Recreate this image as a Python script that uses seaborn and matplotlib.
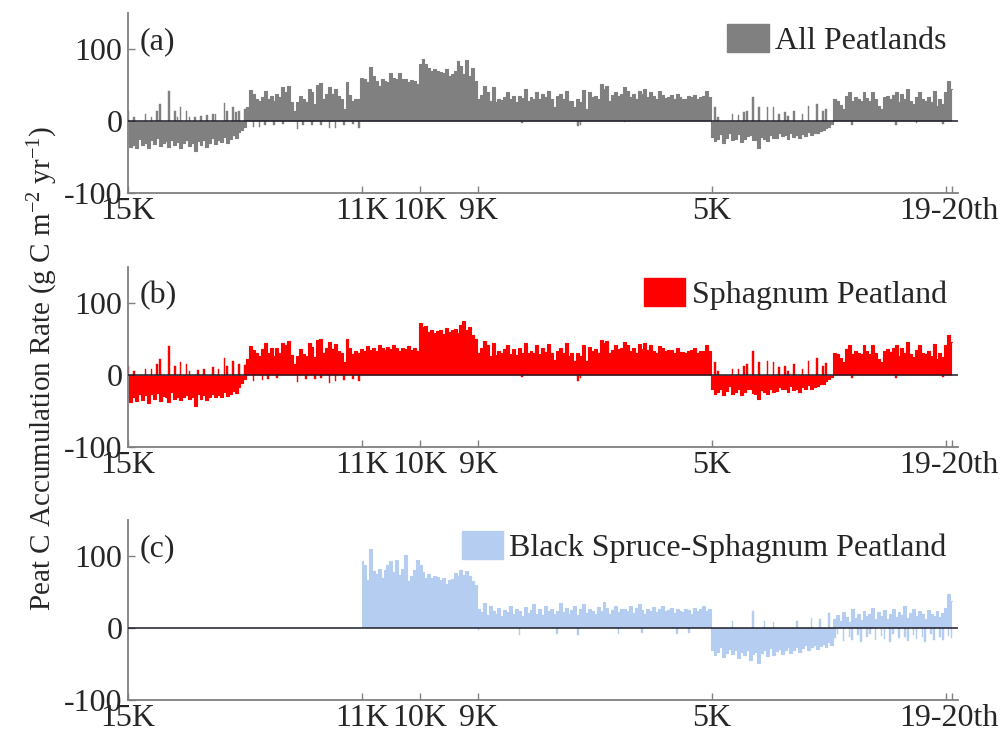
import numpy as np
import pandas as pd
import matplotlib
matplotlib.use("Agg")
import matplotlib.pyplot as plt
from matplotlib.patches import Patch
import seaborn as sns

# ---------------- data (kyr BP, 50-yr bins from 15.0K to 0.9K) ----------------
n_bins = 283
time_kyr = np.round(15.0 - 0.05 * np.arange(n_bins), 3)

all_vals = [
    -28, -36, -33, -38, -25, -34, -30, -37, -27, -32,
    -24, -35, -30, -28, -36, -26, -33, -29, -37, -31,
    -27, -35, -30, -41, -28, -33, -26, -36, -30, -24,
    -32, -27, -29, -22, -30, -25, -20, -24, -15, -12, -8,
    20, 43, 37, 30, 28, 34, 42, 30, 35, 28, 37, 33, 47, 40,
    49, 26, 14, 26, 35, 30, 26, 45, 40, 24, 50, 53, 30, 37, 47,
    37, 44, 35, 30, 17, 54, 36, 28, 30, 30,
    60, 58, 54, 75, 62, 56, 49, 59, 55, 54, 66, 60, 59, 67, 58, 59, 54, 57, 55, 51,
    79, 86, 79, 74, 70, 72, 70, 68, 66, 72, 63, 65, 70, 84, 77, 65, 85, 63, 73, 56,
    30, 36, 49, 40, 28, 47, 26, 31, 29, 34,
    40, 30, 35, 27, 35, 32, 45, 28, 34, 30,
    40, 30, 37, 33, 42, 30, 19, 35, 37, 31,
    42, 28, 28, 19, 30, 26, 43, 17, 40, 33,
    35, 30, 51, 44, 49, 28, 36, 40, 35, 38,
    47, 42, 33, 37, 31, 42, 37, 45, 34, 40,
    35, 30, 41, 36, 32, 34, 36, 30, 37, 33,
    31, 30, 35, 34, 36, 30, 33, 35, 42, 33,
    -22, -28, -25, -18, -30, -23, -16, -27, -25, -18,
    -29, -25, -21, -20, -26, -27, -37, -22, -25, -28,
    -20, -24, -23, -17, -21, -20, -25, -16, -22, -20,
    -24, -18, -21, -15, -20, -17, -16, -14, -13, -10, -8, -4,
    30, 28, 22, 17, 35, 40, 28, 33, 30, 28,
    40, 32, 28, 40, 30, 21, 17, 33, 35, 31,
    36, 40, 26, 37, 30, 45, 28, 24, 34, 40,
    30, 28, 33, 26, 42, 21, 30, 24, 40, 55, 45,
]
all_spike_t = [15.0, 14.9, 14.7, 14.6, 14.5, 14.45, 14.3, 14.2, 14.15, 14.1, 14.0, 13.95,
               13.85, 13.75, 13.65, 13.55, 13.5, 13.35, 13.3, 13.2, 13.15, 13.1, 13.0,
               12.85, 12.75, 12.65, 12.5, 12.35, 12.1, 12.0, 11.85, 11.7, 11.55, 11.45,
               11.3, 11.15, 11.05, 8.25, 7.3, 7.25, 6.5,
               4.95, 4.9, 4.65, 4.55, 4.45, 4.4, 4.3, 4.2, 4.05, 3.95, 3.85, 3.75, 3.7,
               3.6, 3.45, 3.35, 3.2, 3.1, 3.05,
               2.6, 1.85, 1.5, 1.05]
all_spike_v = [14, 5, 10, 6, 14, 24, 41, 14, 5, 19, 14, 6,
               6, 7, 8, 10, 10, 25, 14, 19, 12, 14, 16,
               -9, -8, -6, -5, -4, -11, -5, -5, -5, -10, -10,
               -6, -4, -10, -3, -7, -5, -2,
               19, 5, 10, 8, 13, 14, 34, 19, 19, 19, 10, 12, 7,
               14, 10, 21, 24, 14, 17,
               -5, -5, -3, -4]

sph_vals = [
    -30, -38, -31, -36, -27, -35, -28, -39, -26, -33,
    -25, -36, -29, -30, -37, -24, -34, -31, -35, -30,
    -28, -33, -31, -43, -27, -34, -28, -35, -31, -26,
    -30, -28, -31, -24, -29, -27, -22, -25, -16, -11, -6,
    22, 40, 35, 31, 27, 36, 44, 30, 37, 26,
    38, 31, 45, 41, 47, 28, 15, 27, 36, 29,
    27, 44, 39, 25, 49, 50, 31, 38, 46, 36,
    43, 34, 31, 18, 50, 37, 29, 33, 31,
    36, 33, 40, 35, 38, 34, 42, 37, 35, 39, 36, 41, 37, 34, 38, 36, 40, 35, 37, 34,
    72, 66, 68, 60, 62, 58, 61, 63, 57, 65, 60, 62, 64, 59, 70, 75, 63, 66, 55, 50,
    30, 38, 47, 41, 27, 45, 28, 33, 30, 36,
    41, 29, 36, 28, 37, 31, 44, 30, 33, 31,
    41, 29, 38, 32, 43, 31, 21, 34, 38, 30,
    44, 27, 30, 20, 31, 27, 42, 19, 39, 34,
    36, 31, 49, 45, 47, 30, 35, 41, 36, 37,
    46, 41, 34, 38, 30, 43, 36, 44, 35, 41,
    34, 31, 40, 37, 33, 35, 35, 31, 38, 32,
    32, 31, 34, 35, 37, 31, 34, 34, 41, 34,
    -20, -26, -24, -19, -28, -22, -15, -26, -24, -19,
    -28, -24, -20, -19, -25, -26, -34, -21, -24, -27,
    -19, -23, -22, -16, -20, -19, -24, -15, -21, -19,
    -23, -17, -20, -14, -19, -16, -15, -13, -12, -9, -6, -3,
    31, 29, 23, 18, 36, 41, 29, 34, 31, 29,
    41, 33, 29, 41, 31, 22, 18, 34, 36, 32,
    37, 41, 27, 38, 31, 46, 29, 25, 35, 41,
    31, 29, 34, 27, 43, 22, 31, 25, 41, 56, 46,
]
sph_spike_t = [15.0, 14.9, 14.7, 14.6, 14.5, 14.45, 14.3, 14.2, 14.1, 14.0, 13.95, 13.8,
               13.7, 13.55, 13.45, 13.35, 13.3, 13.2, 13.1, 13.0,
               12.85, 12.7, 12.6, 12.45, 12.1, 11.95, 11.8, 11.7, 11.55, 11.45, 11.3,
               11.15, 11.05, 8.25, 7.3, 7.25,
               4.95, 4.9, 4.65, 4.55, 4.45, 4.4, 4.3, 4.2, 4.05, 3.95, 3.85, 3.75, 3.7,
               3.6, 3.45, 3.35, 3.2, 3.1, 3.05,
               2.6, 1.85, 1.05]
sph_spike_v = [13, 6, 9, 8, 15, 22, 40, 13, 18, 15, 5, 7,
               8, 11, 9, 24, 13, 20, 15, 14,
               -8, -7, -5, -4, -10, -5, -6, -4, -11, -9, -7,
               -5, -9, -3, -8, -4,
               18, 6, 9, 9, 12, 15, 33, 18, 20, 18, 11, 13, 6,
               15, 9, 20, 23, 13, 16,
               -4, -4, -3]

bs_start = 80  # Black spruce record begins at 11K
bs_vals = [
    93, 88, 66, 110, 79, 75, 82, 70, 80, 88,
    93, 78, 95, 74, 82, 102, 65, 72, 80, 95,
    88, 78, 70, 75, 70, 72, 71, 66, 70, 61,
    66, 68, 76, 72, 80, 74, 79, 72, 65, 60,
    26, 22, 35, 18, 30, 24, 20, 28, 16, 25,
    22, 30, 19, 27, 24, 17, 29, 21, 25, 33,
    20, 26, 18, 31, 23, 27, 19, 24, 35, 22,
    28, 20, 25, 30, 18, 26, 33, 21, 27, 24,
    19, 29, 23, 36, 28, 20, 25, 31, 22, 27,
    26, 24, 30, 21, 28, 33, 25, 20, 27, 24,
    29, 22, 26, 31, 23, 25, 28, 21, 26, 24,
    22, 27, 25, 20, 28, 24, 26, 30, 23, 27,
    -30, -38, -33, -27, -40, -35, -29, -36, -31, -42,
    -34, -38, -30, -44, -36, -33, -48, -35, -31, -39,
    -28, -37, -32, -29, -36, -31, -27, -35, -30, -26,
    -33, -28, -24, -31, -27, -23, -29, -25, -22, -27, -20, -24,
    12, 18, 10, 22, 15, 9, 26, 14, 20, 11,
    24, 16, 19, 28, 13, 22, 17, 25, 12, 20,
    27, 15, 22, 18, 30, 14, 21, 26, 16, 24,
    19, 13, 25, 20, 17, 23, 15, 21, 28, 47, 38,
]
bs_spike_t = [9.0, 8.3, 7.65, 7.3, 6.6, 6.2, 5.6, 5.4,
              4.65, 4.3, 4.1, 3.95, 3.55, 3.3, 3.15, 3.0,
              2.9, 2.85, 2.75, 2.65, 2.6, 2.5, 2.45, 2.35, 2.3, 2.2, 2.1, 2.05, 1.95,
              1.9, 1.8, 1.7, 1.65, 1.55, 1.5, 1.4, 1.35, 1.25, 1.2, 1.1, 1.05, 0.95, 0.9]
bs_spike_v = [-3, -10, -9, -10, -8, -7, -8, -7,
              10, 24, 10, 8, 10, 14, 12, 21,
              -14, -9, -18, -12, -16, -10, -19, -13, -8, -17, -11, -15, -20,
              -9, -14, -12, -18, -10, -15, -13, -19, -9, -16, -12, -17, -11, -14]

panel_tags = ["(a)", "(b)", "(c)"]
legend_labels = ["All Peatlands", "Sphagnum Peatland", "Black Spruce-Sphagnum Peatland"]
colors = ["#808080", "#ff0000", "#b4cdf0"]
xtick_pos = [15, 11, 10, 9, 5, 1.0, 0.9]
xtick_lab = ["15K", "11K", "10K", "9K", "5K", "", ""]
ytick_pos = [-100, 0, 100]
ytick_lab = ["-100", "0", "100"]

# ---------------- style ----------------
sns.set_style("ticks")
plt.rcParams["font.family"] = ["Liberation Serif", "DejaVu Serif"]
plt.rcParams["mathtext.fontset"] = "custom"
plt.rcParams["mathtext.rm"] = "Liberation Serif"
plt.rcParams["mathtext.it"] = "Liberation Serif:italic"
plt.rcParams["mathtext.default"] = "regular"
FS = 23

fig = plt.figure(figsize=(10.08, 7.36), dpi=100)
left, width, height = 128 / 1008, (958 - 128) / 1008, 180 / 736
bottoms = [1 - 193 / 736, 1 - 447 / 736, 1 - 700 / 736]

series = [
    (time_kyr, all_vals, all_spike_t, all_spike_v),
    (time_kyr, sph_vals, sph_spike_t, sph_spike_v),
    (time_kyr[bs_start:], bs_vals, bs_spike_t, bs_spike_v),
]

for k, (tt, vv, st, sv) in enumerate(series):
    ax = fig.add_axes([left, bottoms[k], width, height])
    col = colors[k]
    main_df = pd.DataFrame({"t": tt, "v": vv})
    # stepped outline of the record, filled down to zero
    sns.lineplot(data=main_df, x="t", y="v", drawstyle="steps-mid", color=col,
                 lw=0.8, estimator=None, ax=ax)
    ax.fill_between(main_df["t"], 0, main_df["v"], step="mid", color=col,
                    lw=0, zorder=2)
    # short opposite-sign excursions
    spk_df = pd.DataFrame({"t": st, "v": sv})
    md = np.min(np.diff(np.sort(np.asarray(st, dtype=float))))
    sns.barplot(data=spk_df, x="t", y="v", native_scale=True, orient="x",
                width=0.028 / md, color=col, saturation=1, errorbar=None,
                edgecolor=col, linewidth=0.3, ax=ax)
    ax.axhline(0, color="#1c1c28", lw=1.1, zorder=5)

    ax.set_xlim(15, 0.79)
    ax.set_ylim(-100, 150)
    ax.set_xlabel("")
    ax.set_ylabel("")
    ax.set_xticks(xtick_pos)
    ax.set_xticklabels(xtick_lab)
    ax.set_xticks([0.95], labels=["19-20th"], minor=True)
    ax.set_yticks(ytick_pos)
    ax.set_yticklabels(ytick_lab)
    ax.tick_params(axis="both", which="major", direction="in", length=5,
                   width=1.0, color="#808080", labelsize=FS)
    ax.tick_params(axis="x", which="both", pad=3)
    ax.tick_params(axis="x", which="minor", length=0, labelsize=FS)
    ax.tick_params(axis="y", pad=4)
    for side in ["top", "right"]:
        ax.spines[side].set_visible(False)
    for side in ["left", "bottom"]:
        ax.spines[side].set_color("#808080")
        ax.spines[side].set_linewidth(1.3)
    ax.set_facecolor("white")

    ax.text(0.014, 0.84, panel_tags[k], transform=ax.transAxes,
            fontsize=FS, ha="left", va="center")
    ax.legend(handles=[Patch(facecolor=col, edgecolor=col, label=legend_labels[k])],
              loc="upper right", frameon=False, fontsize=FS,
              handlelength=1.3, handleheight=0.95, handletextpad=0.2,
              borderaxespad=0.15, borderpad=0.2)

fig.text(0.043, 0.5, r"Peat C Accumulation Rate (g C m$^{-2}$ yr$^{-1}$)",
         rotation=90, ha="center", va="center", fontsize=21)

fig.savefig("out.png", dpi=100, facecolor="white")
